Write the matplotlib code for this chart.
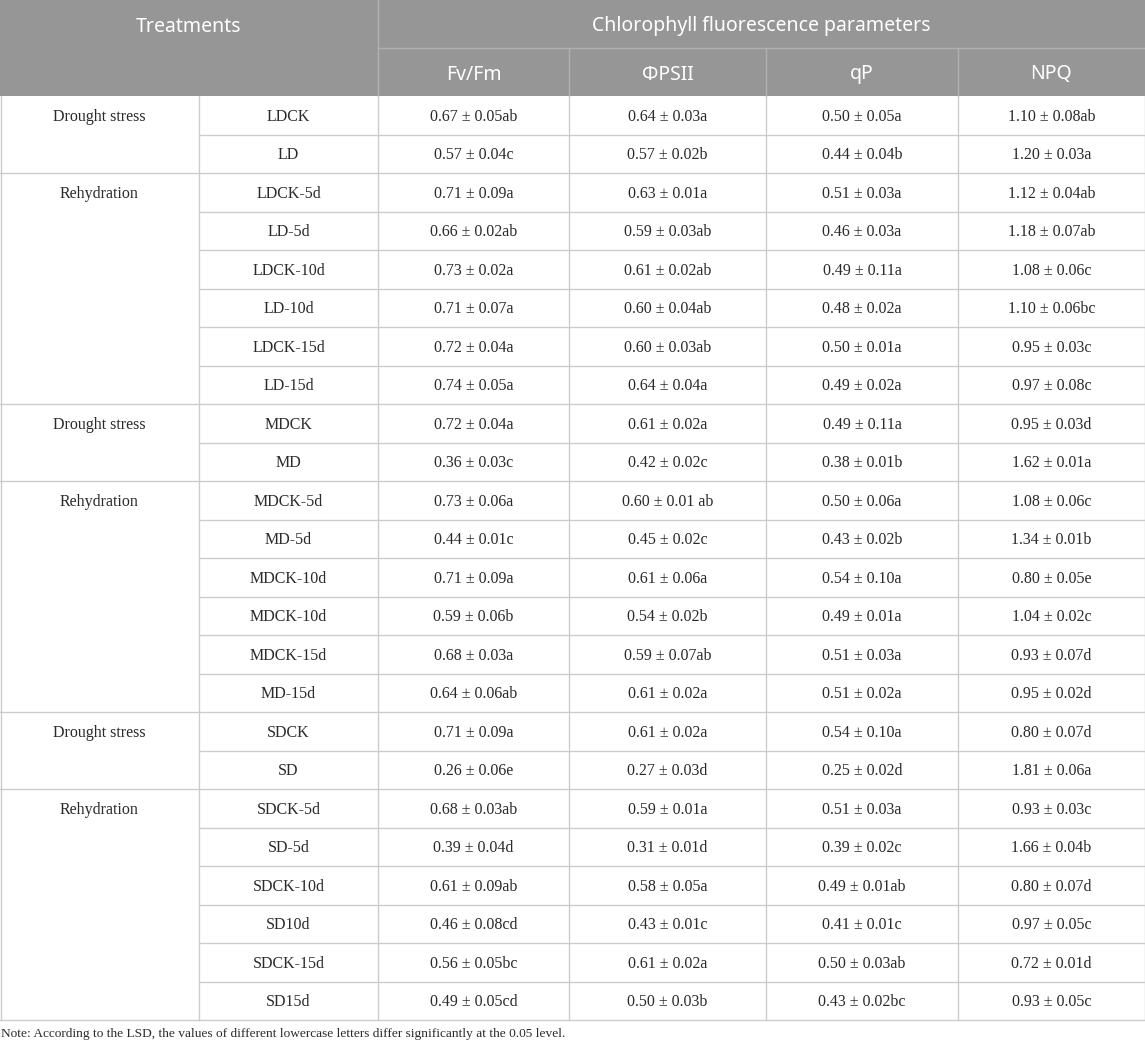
import matplotlib
matplotlib.use('Agg')
import matplotlib.pyplot as plt
from matplotlib.patches import Rectangle

# Table content
groups = ['Drought stress', 'Rehydration', 'Drought stress', 'Rehydration',
          'Drought stress', 'Rehydration']
group_sizes = [2, 6, 2, 6, 2, 6]

treatments = ['LDCK', 'LD', 'LDCK-5d', 'LD-5d', 'LDCK-10d', 'LD-10d', 'LDCK-15d', 'LD-15d',
              'MDCK', 'MD', 'MDCK-5d', 'MD-5d', 'MDCK-10d', 'MDCK-10d', 'MDCK-15d', 'MD-15d',
              'SDCK', 'SD', 'SDCK-5d', 'SD-5d', 'SDCK-10d', 'SD10d', 'SDCK-15d', 'SD15d']

fv_fm = ['0.67 ± 0.05ab', '0.57 ± 0.04c', '0.71 ± 0.09a', '0.66 ± 0.02ab', '0.73 ± 0.02a',
         '0.71 ± 0.07a', '0.72 ± 0.04a', '0.74 ± 0.05a', '0.72 ± 0.04a', '0.36 ± 0.03c',
         '0.73 ± 0.06a', '0.44 ± 0.01c', '0.71 ± 0.09a', '0.59 ± 0.06b', '0.68 ± 0.03a',
         '0.64 ± 0.06ab', '0.71 ± 0.09a', '0.26 ± 0.06e', '0.68 ± 0.03ab', '0.39 ± 0.04d',
         '0.61 ± 0.09ab', '0.46 ± 0.08cd', '0.56 ± 0.05bc', '0.49 ± 0.05cd']
phi_psii = ['0.64 ± 0.03a', '0.57 ± 0.02b', '0.63 ± 0.01a', '0.59 ± 0.03ab', '0.61 ± 0.02ab',
            '0.60 ± 0.04ab', '0.60 ± 0.03ab', '0.64 ± 0.04a', '0.61 ± 0.02a', '0.42 ± 0.02c',
            '0.60 ± 0.01 ab', '0.45 ± 0.02c', '0.61 ± 0.06a', '0.54 ± 0.02b', '0.59 ± 0.07ab',
            '0.61 ± 0.02a', '0.61 ± 0.02a', '0.27 ± 0.03d', '0.59 ± 0.01a', '0.31 ± 0.01d',
            '0.58 ± 0.05a', '0.43 ± 0.01c', '0.61 ± 0.02a', '0.50 ± 0.03b']
qp = ['0.50 ± 0.05a', '0.44 ± 0.04b', '0.51 ± 0.03a', '0.46 ± 0.03a', '0.49 ± 0.11a',
      '0.48 ± 0.02a', '0.50 ± 0.01a', '0.49 ± 0.02a', '0.49 ± 0.11a', '0.38 ± 0.01b',
      '0.50 ± 0.06a', '0.43 ± 0.02b', '0.54 ± 0.10a', '0.49 ± 0.01a', '0.51 ± 0.03a',
      '0.51 ± 0.02a', '0.54 ± 0.10a', '0.25 ± 0.02d', '0.51 ± 0.03a', '0.39 ± 0.02c',
      '0.49 ± 0.01ab', '0.41 ± 0.01c', '0.50 ± 0.03ab', '0.43 ± 0.02bc']
npq = ['1.10 ± 0.08ab', '1.20 ± 0.03a', '1.12 ± 0.04ab', '1.18 ± 0.07ab', '1.08 ± 0.06c',
       '1.10 ± 0.06bc', '0.95 ± 0.03c', '0.97 ± 0.08c', '0.95 ± 0.03d', '1.62 ± 0.01a',
       '1.08 ± 0.06c', '1.34 ± 0.01b', '0.80 ± 0.05e', '1.04 ± 0.02c', '0.93 ± 0.07d',
       '0.95 ± 0.02d', '0.80 ± 0.07d', '1.81 ± 0.06a', '0.93 ± 0.03c', '1.66 ± 0.04b',
       '0.80 ± 0.07d', '0.97 ± 0.05c', '0.72 ± 0.01d', '0.93 ± 0.05c']

param_names = ['Fv/Fm', 'ΦPSII', 'qP', 'NPQ']
header_left = 'Treatments'
header_right = 'Chlorophyll fluorescence parameters'
note = 'Note: According to the LSD, the values of different lowercase letters differ significantly at the 0.05 level.'

# Layout (pixels)
W, H = 1145, 1044
col_x = [0, 199, 378, 569, 766, 958, 1145]
h1, h2 = 48, 96
row_h = 38.5
header_bg = '#969696'
header_line = '#b0b0b0'
grid_color = '#cccccc'
text_color = '#2a2a2a'
serif = 'Liberation Serif'
sans = 'Noto Sans'
head_fs = 14
body_fs = 11.5
head_dy = 2.5   # nudge text down a little to match the reference
body_dy = 1.5

fig = plt.figure(figsize=(W / 100, H / 100), dpi=100)
ax = fig.add_axes([0, 0, 1, 1])
ax.set_xlim(0, W)
ax.set_ylim(H, 0)
ax.axis('off')

# header
ax.add_patch(Rectangle((0, 0), W, h2, facecolor=header_bg, edgecolor='none'))
ax.plot([col_x[2], W], [h1, h1], color=header_line, lw=1)
ax.plot([col_x[2], col_x[2]], [0, h2], color=header_line, lw=1)
for x in col_x[3:-1]:
    ax.plot([x, x], [h1, h2], color=header_line, lw=1)
ax.text(col_x[2] / 2, h1 / 2 + head_dy, header_left, ha='center', va='center',
        color='white', fontsize=head_fs, family=sans)
ax.text((col_x[2] + W) / 2, h1 / 2 + head_dy, header_right, ha='center', va='center',
        color='white', fontsize=head_fs, family=sans)
for i, name in enumerate(param_names):
    cx = (col_x[i + 2] + col_x[i + 3]) / 2
    ax.text(cx, (h1 + h2) / 2 + head_dy, name, ha='center', va='center',
            color='white', fontsize=head_fs, family=sans)

# body
n_rows = len(treatments)
bottom = h2 + n_rows * row_h
columns = [treatments, fv_fm, phi_psii, qp, npq]
for r in range(n_rows):
    yc = h2 + (r + 0.5) * row_h + body_dy
    for c, vals in enumerate(columns):
        cx = (col_x[c + 1] + col_x[c + 2]) / 2
        ax.text(cx, yc, vals[r], ha='center', va='center', color=text_color,
                fontsize=body_fs, family=serif)
    # horizontal line under row (not in group column)
    ax.plot([col_x[1], W], [h2 + (r + 1) * row_h] * 2, color=grid_color, lw=1)

# group column
start = 0
for g, size in zip(groups, group_sizes):
    yc = h2 + (start + 0.5) * row_h + body_dy
    ax.text(col_x[1] / 2, yc, g, ha='center', va='center', color=text_color,
            fontsize=body_fs, family=serif)
    start += size
    ax.plot([0, col_x[1]], [h2 + start * row_h] * 2, color=grid_color, lw=1)

# vertical lines in body
for x in col_x:
    xx = min(max(x, 0.5), W - 0.5)
    ax.plot([xx, xx], [h2, bottom], color=grid_color, lw=1)

ax.text(1, bottom + 14, note, ha='left', va='center', color=text_color,
        fontsize=9.6, family=serif)

fig.savefig('out.png', dpi=100)
